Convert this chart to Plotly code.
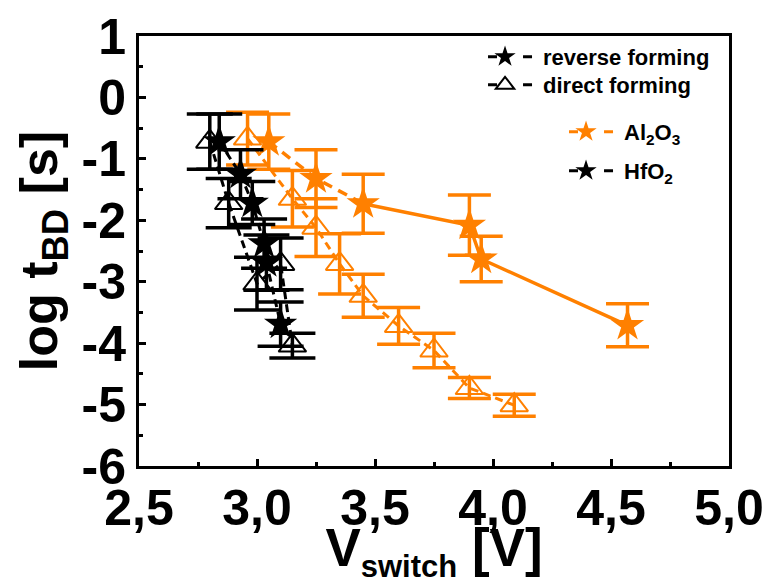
import plotly.graph_objects as go

# ---- data ----
al_rev_v = [3.05, 3.25, 3.45, 3.90, 3.95, 4.57]
al_rev_t = [-0.72, -1.32, -1.73, -2.08, -2.63, -3.71]
al_rev_e = [0.45, 0.47, 0.48, 0.49, 0.37, 0.35]

al_dir_v = [2.96, 3.15, 3.25, 3.35, 3.45, 3.60, 3.75, 3.90, 4.09]
al_dir_t = [-0.67, -1.65, -2.12, -2.71, -3.23, -3.72, -4.12, -4.73, -5.01]
al_dir_e = [0.43, 0.46, 0.47, 0.49, 0.35, 0.30, 0.28, 0.17, 0.18]

hf_rev_v = [2.84, 2.93, 2.98, 3.03, 3.04, 3.10]
hf_rev_t = [-0.72, -1.25, -1.72, -2.38, -2.69, -3.69]
hf_rev_e = [0.45, 0.40, 0.35, 0.40, 0.45, 0.36]

hf_dir_v = [2.80, 2.88, 3.00, 3.10, 3.15]
hf_dir_t = [-0.72, -1.72, -3.03, -2.71, -4.04]
hf_dir_e = [0.45, 0.40, 0.43, 0.42, 0.20]

x_tickvals = [2.5, 3.0, 3.5, 4.0, 4.5, 5.0]
x_ticktext = ["2,5", "3,0", "3,5", "4,0", "4,5", "5,0"]
y_tickvals = [-6, -5, -4, -3, -2, -1, 0, 1]
y_ticktext = ["-6", "-5", "-4", "-3", "-2", "-1", "0", "1"]

ORANGE = "#FF8000"
BLACK = "#000000"
FONT = "Liberation Sans, Arial, sans-serif"

fig = go.Figure()


def err(vals, color, w):
    return dict(type="data", array=vals, visible=True, color=color,
                thickness=3.5, width=w)


# Al2O3 direct forming (open orange triangles, dashed)
fig.add_trace(go.Scatter(
    x=al_dir_v, y=al_dir_t, mode="lines+markers",
    line=dict(color=ORANGE, width=3, dash="8px,5px"),
    marker=dict(symbol="triangle-up-open", size=24, color=ORANGE,
                line=dict(color=ORANGE, width=2)),
    error_y=err(al_dir_e, ORANGE, 21.5), showlegend=False))

# Al2O3 reverse forming: dashed connection for the first points, solid after
fig.add_trace(go.Scatter(
    x=al_rev_v[:3], y=al_rev_t[:3], mode="lines",
    line=dict(color=ORANGE, width=3.5, dash="10px,7px"), showlegend=False))
fig.add_trace(go.Scatter(
    x=al_rev_v[2:], y=al_rev_t[2:], mode="lines",
    line=dict(color=ORANGE, width=3.5), showlegend=False))
fig.add_trace(go.Scatter(
    x=al_rev_v, y=al_rev_t, mode="markers",
    marker=dict(symbol="star", size=25, color=ORANGE,
                line=dict(width=0)),
    error_y=err(al_rev_e, ORANGE, 21.5), showlegend=False))

# HfO2 direct forming (open black triangles)
fig.add_trace(go.Scatter(
    x=hf_dir_v, y=hf_dir_t, mode="lines+markers",
    line=dict(color=BLACK, width=3, dash="8px,5px"),
    marker=dict(symbol="triangle-up-open", size=24, color=BLACK,
                line=dict(color=BLACK, width=2)),
    error_y=err(hf_dir_e, BLACK, 23), showlegend=False))

# HfO2 reverse forming (black stars)
fig.add_trace(go.Scatter(
    x=hf_rev_v, y=hf_rev_t, mode="lines+markers",
    line=dict(color=BLACK, width=3, dash="8px,5px"),
    marker=dict(symbol="star", size=25, color=BLACK, line=dict(width=0)),
    error_y=err(hf_rev_e, BLACK, 23), showlegend=False))

# legend entries (each in its own legend box so it can be placed freely)
leg_line = dict(width=3, dash="0px,16px,9px,26px,9px,60px")
fig.add_trace(go.Scatter(
    x=[None], y=[None], mode="lines+markers", name="reverse forming",
    line=dict(color=BLACK, **leg_line),
    marker=dict(symbol="star", size=25, color=BLACK), legend="legend"))
fig.add_trace(go.Scatter(
    x=[None], y=[None], mode="lines+markers", name="direct forming",
    line=dict(color=BLACK, **leg_line),
    marker=dict(symbol="triangle-up-open", size=22, color=BLACK,
                line=dict(color=BLACK, width=2)), legend="legend4"))
fig.add_trace(go.Scatter(
    x=[None], y=[None], mode="lines+markers", name="Al<sub>2</sub>O<sub>3</sub>",
    line=dict(color=ORANGE, **leg_line),
    marker=dict(symbol="star", size=25, color=ORANGE), legend="legend2"))
fig.add_trace(go.Scatter(
    x=[None], y=[None], mode="lines+markers", name="HfO<sub>2</sub>",
    line=dict(color=BLACK, **leg_line),
    marker=dict(symbol="star", size=25, color=BLACK), legend="legend3"))

leg_font = dict(family=FONT, size=22, color=BLACK, weight="bold")
leg_common = dict(font=leg_font, bgcolor="rgba(0,0,0,0)", borderwidth=0,
                  itemwidth=66, xanchor="left", yanchor="middle",
                  xref="container", yref="container",
                  itemclick=False, itemdoubleclick=False)

axis_common = dict(
    showline=True, linewidth=3, linecolor=BLACK, mirror=True,
    ticks="inside", ticklen=7, tickwidth=2.5, tickcolor=BLACK,
    showgrid=False, zeroline=False, automargin=False,
    tickfont=dict(family=FONT, size=50, color=BLACK, weight="bold"),
)

fig.update_layout(
    width=767, height=584,
    margin=dict(l=139, r=38, t=36, b=118, autoexpand=False),
    paper_bgcolor="white", plot_bgcolor="white",
    font=dict(family=FONT, color=BLACK),
    xaxis=dict(range=[2.5, 5.0], tickmode="array", tickvals=x_tickvals,
               ticktext=x_ticktext, ticklabelstandoff=-4,
               minor=dict(ticks="inside", ticklen=4, tickwidth=2.5,
                          tickcolor=BLACK, dtick=0.25, tick0=2.5),
               title=dict(
                   text="V<sub><span style='font-size:31px'>switch</span></sub> [V]",
                   standoff=0,
                   font=dict(family=FONT, size=53, color=BLACK,
                             weight="bold")),
               **axis_common),
    yaxis=dict(range=[-6, 1], tickmode="array", tickvals=y_tickvals,
               ticktext=y_ticktext,
               minor=dict(ticks="inside", ticklen=4, tickwidth=2.5,
                          tickcolor=BLACK, dtick=0.5, tick0=0),
               title=dict(text="log t<sub>BD</sub> [s]", standoff=8,
                          font=dict(family=FONT, size=52, color=BLACK,
                                    weight="bold")),
               **axis_common),
    legend=dict(x=0.6089, y=0.9024, **leg_common),
    legend4=dict(x=0.6089, y=0.8545, **leg_common),
    legend2=dict(x=0.7145, y=0.774, **leg_common),
    legend3=dict(x=0.7145, y=0.7072, **leg_common),
)

fig.write_html("out.html",
               config={"displayModeBar": False},
               post_script="document.body.style.margin='0';"
                           "document.body.style.overflow='hidden';")
